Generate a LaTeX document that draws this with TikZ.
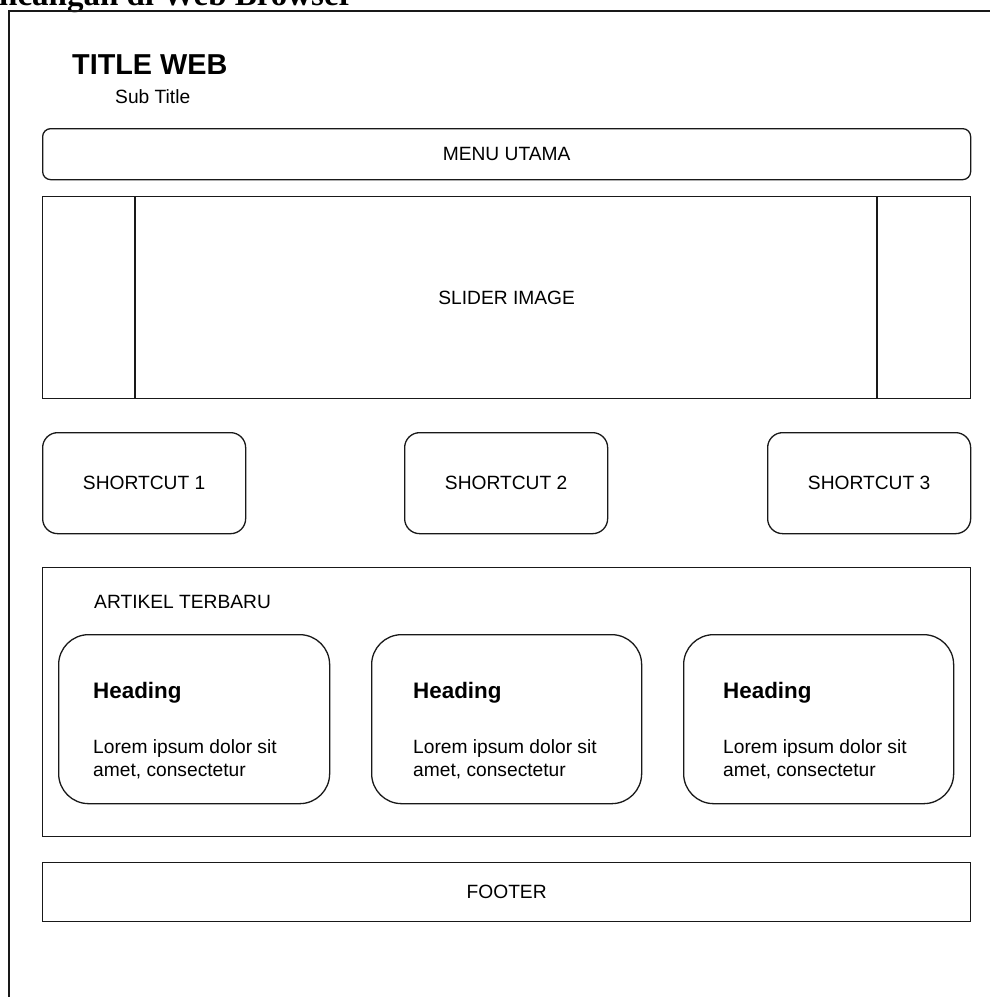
\documentclass[tikz,border=0pt]{standalone}
\usepackage{fontspec}
\setmainfont{Liberation Sans}
\newfontfamily\headserif{Liberation Serif}
\begin{document}
\begin{tikzpicture}[x=1pt,y=-1pt,
  frame/.style={draw=black!90, line width=1.3pt},
  boxsq/.style={frame, inner sep=0pt, font=\fontsize{19.2}{23}\selectfont, anchor=north west},
  boxrnd/.style={boxsq, rounded corners=#1},
  lbl/.style={inner sep=0pt, font=\fontsize{19.2}{23}\selectfont},
  headtxt/.style={inner sep=0pt, anchor=base west, font=\fontsize{22.4}{27}\selectfont\bfseries},
  bodytxt/.style={inner sep=0pt, anchor=north west, align=left, font=\fontsize{19.2}{23}\selectfont}
]
\useasboundingbox (0,0) rectangle (990,997);
\clip (0,0) rectangle (990,997);
\fill[white] (0,0) rectangle (990,997);

% header line, cut by the page edge
\node[inner sep=0pt, anchor=base west, font=\headserif\fontsize{33}{36}\selectfont\bfseries] (pagehead) at (-1,5) {ncangan di Web Browser};

% outer browser frame
\coordinate (frmbl) at (9,1100);
\coordinate (frmtl) at (9,11);
\coordinate (frmtr) at (1100,11);
\draw[frame] (frmbl) -- (frmtl) -- (frmtr);

% title
\node[inner sep=0pt, anchor=base west, font=\fontsize{28.8}{32}\selectfont\bfseries] (title) at (72,74) {TITLE WEB};
\node[inner sep=0pt, anchor=base west, font=\fontsize{19.2}{23}\selectfont] (subtitle) at (115,103) {Sub Title};

% menu
\node[boxrnd=8pt, minimum width=928pt, minimum height=51pt] (menu) at (42,128) {MENU UTAMA};

% slider
\node[boxsq, minimum width=928pt, minimum height=202pt] (slider) at (42,196) {SLIDER IMAGE};
\draw[frame] (135,196) -- (135,398);
\draw[frame] (877,196) -- (877,398);

% shortcuts
\node[boxrnd=15pt, minimum width=203pt, minimum height=101pt] (sc1) at (42,432) {SHORTCUT 1};
\node[boxrnd=15pt, minimum width=203pt, minimum height=101pt] (sc2) at (404,432) {SHORTCUT 2};
\node[boxrnd=15pt, minimum width=203pt, minimum height=101pt] (sc3) at (767,432) {SHORTCUT 3};

% articles container
\node[boxsq, minimum width=928pt, minimum height=269pt] (artikel) at (42,567) {};
\node[lbl, anchor=base west] (artlbl) at (94,608) {ARTIKEL TERBARU};

% cards
\node[boxrnd=30pt, minimum width=271pt, minimum height=169pt] (card1) at (58,634) {};
\node[boxrnd=30pt, minimum width=270pt, minimum height=169pt] (card2) at (371,634) {};
\node[boxrnd=30pt, minimum width=270pt, minimum height=169pt] (card3) at (683,634) {};

\node[headtxt] (h1) at (93,698) {Heading};
\node[headtxt] (h2) at (413,698) {Heading};
\node[headtxt] (h3) at (723,698) {Heading};

\node[bodytxt] (b1) at (93,739) {Lorem ipsum dolor sit\\amet, consectetur};
\node[bodytxt] (b2) at (413,739) {Lorem ipsum dolor sit\\amet, consectetur};
\node[bodytxt] (b3) at (723,739) {Lorem ipsum dolor sit\\amet, consectetur};

% footer
\node[boxsq, minimum width=928pt, minimum height=59pt] (footer) at (42,862) {FOOTER};
\end{tikzpicture}
\end{document}
